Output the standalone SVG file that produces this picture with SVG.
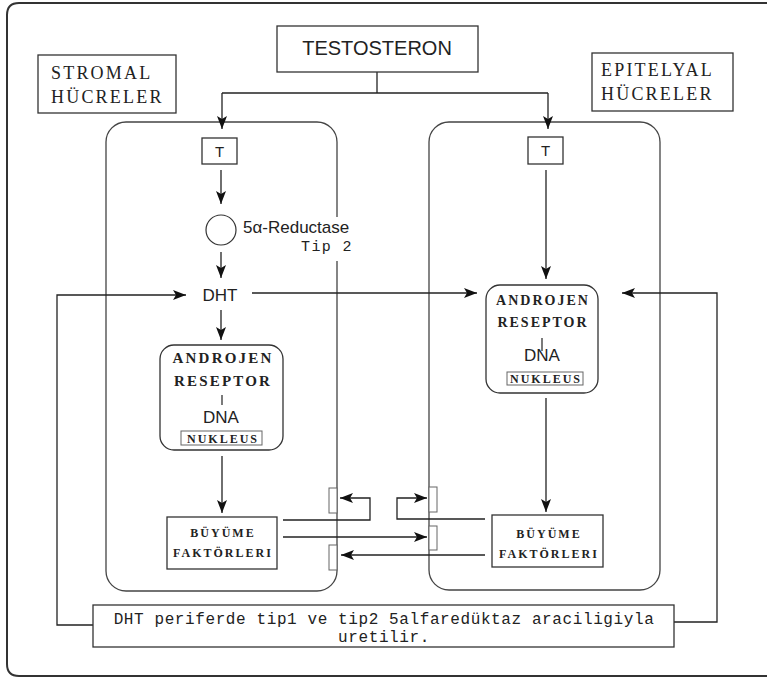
<svg xmlns="http://www.w3.org/2000/svg" width="767" height="678" viewBox="0 0 767 678">
<style>
.ln{fill:none;stroke:#222;stroke-width:1.3}
.bx{fill:#fff;stroke:#333;stroke-width:1.3}
.cell{fill:none;stroke:#444;stroke-width:1.3}
.rc{fill:#fff;stroke:#666;stroke-width:1}
.sans{font-family:"Liberation Sans",Arial,sans-serif;fill:#222}
.mono{font-family:"Liberation Mono","Courier New",monospace;fill:#222}
.serif{font-family:"Liberation Serif","Times New Roman",serif;fill:#222}
.lab{font-size:18px;letter-spacing:2.2px}
.ar{font-size:15px;letter-spacing:2.2px;font-weight:bold}
.ar2{font-size:14px;letter-spacing:2px;font-weight:bold}
.sm{font-size:12px;letter-spacing:2px;font-weight:bold}
.mid{text-anchor:middle}
</style>
<defs>
<marker id="ah" markerUnits="userSpaceOnUse" markerWidth="14" markerHeight="12" refX="13" refY="5" orient="auto">
<path d="M0,0 L13,5 L0,10 L3,5 z" fill="#111"/>
</marker>
</defs>
<rect width="767" height="678" fill="#fff"/>
<path d="M800,3 H19 Q7,3 7,15 V664 Q7,676 19,676 H800" fill="none" stroke="#333" stroke-width="2"/>

<g id="stromal-cell">
<rect class="cell" x="106" y="122" width="231" height="469" rx="20"/>
<rect x="330" y="217" width="14" height="44" fill="#fff"/>
</g>
<g id="epitelyal-cell">
<rect class="cell" x="429" y="122" width="231" height="468" rx="20"/>
</g>

<g id="receptors">
<rect class="rc" x="329" y="488" width="8" height="25"/>
<rect class="rc" x="329" y="545" width="8" height="25"/>
<rect class="rc" x="429" y="487" width="8" height="25"/>
<rect class="rc" x="429" y="526" width="8" height="24"/>
</g>

<g id="connectors">
<path class="ln" d="M377,72 V93"/>
<path class="ln" d="M222,93 H548"/>
<path class="ln" d="M222,93 V129" marker-end="url(#ah)"/>
<path class="ln" d="M548,93 V129" marker-end="url(#ah)"/>
<path class="ln" d="M221,170 V204" marker-end="url(#ah)"/>
<path class="ln" d="M221,252 V278" marker-end="url(#ah)"/>
<path class="ln" d="M221,310 V340" marker-end="url(#ah)"/>
<path class="ln" d="M222,456 V513" marker-end="url(#ah)"/>
<path class="ln" d="M546,170 V279" marker-end="url(#ah)"/>
<path class="ln" d="M546,398 V512" marker-end="url(#ah)"/>
<path class="ln" d="M252,293 H477" marker-end="url(#ah)"/>
<path class="ln" d="M93,625 H57 V295 H186" marker-end="url(#ah)"/>
<path class="ln" d="M674,622 H717 V293 H622" marker-end="url(#ah)"/>
<path class="ln" d="M283,520 H370 V498 H340" marker-end="url(#ah)"/>
<path class="ln" d="M283,537 H427" marker-end="url(#ah)"/>
<path class="ln" d="M485,555 H341" marker-end="url(#ah)"/>
<path class="ln" d="M485,519 H397 V498 H427" marker-end="url(#ah)"/>
</g>

<g id="testosteron">
<rect class="bx" x="277" y="26" width="201" height="46"/>
<text class="sans mid" x="377" y="55" font-size="20">TESTOSTERON</text>
</g>
<g id="stromal-label">
<rect class="bx" x="38" y="55" width="138" height="58"/>
<text class="serif lab" x="51" y="79">STROMAL</text>
<text class="serif lab" x="51" y="103">HÜCRELER</text>
</g>
<g id="epitelyal-label">
<rect class="bx" x="592" y="53" width="141" height="58"/>
<text class="serif lab" x="601" y="76">EPITELYAL</text>
<text class="serif lab" x="601" y="100">HÜCRELER</text>
</g>

<g id="t-left">
<rect class="bx" x="202" y="138" width="35" height="26"/>
<text class="sans mid" x="219.5" y="157" font-size="15">T</text>
</g>
<g id="t-right">
<rect class="bx" x="528" y="137" width="35" height="27"/>
<text class="sans mid" x="545.5" y="156" font-size="15">T</text>
</g>

<g id="reductase">
<circle cx="221" cy="230" r="15" fill="#fff" stroke="#333" stroke-width="1.2"/>
<text class="sans" x="243" y="233" font-size="17">5α-Reductase</text>
<text class="mono" x="353" y="251" font-size="15" letter-spacing="1.4" text-anchor="end">Tip 2</text>
</g>

<g id="dht">
<text class="sans mid" x="220" y="301" font-size="17">DHT</text>
</g>

<g id="ar-left">
<rect class="bx" x="160" y="345" width="123" height="105" rx="14"/>
<text class="serif ar mid" x="223" y="363">ANDROJEN</text>
<text class="serif ar mid" x="223" y="386">RESEPTOR</text>
<line x1="222" y1="395" x2="222" y2="405" stroke="#333" stroke-width="1.3"/>
<text class="sans mid" x="221" y="423" font-size="17">DNA</text>
<rect class="rc" x="181" y="431" width="81" height="14"/>
<text class="serif sm mid" x="223" y="443">NUKLEUS</text>
</g>

<g id="ar-right">
<rect class="bx" x="486" y="285" width="112" height="108" rx="14"/>
<text class="serif ar2 mid" x="543" y="305">ANDROJEN</text>
<text class="serif ar2 mid" x="543" y="327">RESEPTOR</text>
<line x1="542" y1="338" x2="542" y2="351" stroke="#333" stroke-width="1.3"/>
<text class="sans mid" x="542" y="361" font-size="17">DNA</text>
<rect class="rc" x="507" y="372" width="76" height="13"/>
<text class="serif sm mid" x="546" y="383">NUKLEUS</text>
</g>

<g id="bf-left">
<rect class="bx" x="167" y="517" width="110" height="52"/>
<text class="serif sm mid" x="223" y="537">BÜYÜME</text>
<text class="serif sm mid" x="223" y="557">FAKTÖRLERI</text>
</g>
<g id="bf-right">
<rect class="bx" x="492" y="515" width="111" height="52"/>
<text class="serif sm mid" x="549" y="538">BÜYÜME</text>
<text class="serif sm mid" x="549" y="558">FAKTÖRLERI</text>
</g>

<g id="note">
<rect class="bx" x="93" y="605" width="581" height="42"/>
<text class="mono mid" x="384" y="624" font-size="16" letter-spacing="0.6">DHT periferde tip1 ve tip2 5alfaredüktaz araciligiyla</text>
<text class="mono mid" x="384" y="642" font-size="16" letter-spacing="0.6">uretilir.</text>
</g>
</svg>
